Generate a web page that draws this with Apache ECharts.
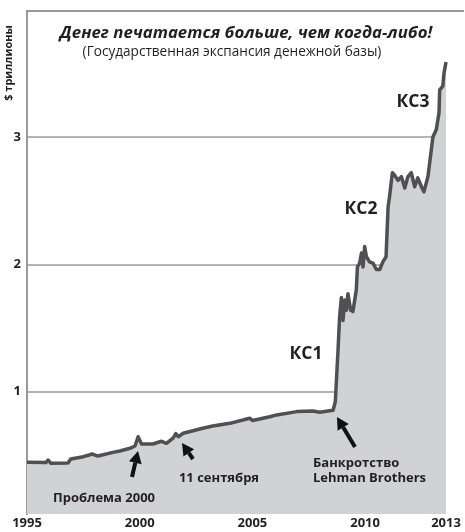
<!DOCTYPE html>
<html>
<head>
<meta charset="utf-8">
<script src="https://cdn.jsdelivr.net/npm/echarts@6/dist/echarts.min.js"></script>
<style>html,body{margin:0;padding:0;background:#fff;}#c{width:465px;height:532px;}</style>
</head>
<body>
<div id="c"></div>
<script>
// Monetary base, $ trillions (decimal year, value)
const years = [1995.00, 1995.84, 1995.94, 1996.06, 1996.82, 1996.94, 1997.44, 1997.75, 1997.88, 1998.15,
  1998.81, 1999.12, 1999.57, 1999.79, 1999.93, 2000.08, 2000.59, 2000.97, 2001.19, 2001.49,
  2001.60, 2001.71, 2001.93, 2002.80, 2003.24, 2004.00, 2004.88, 2005.01, 2005.77, 2006.08,
  2006.97, 2007.68, 2007.99, 2008.58, 2008.68, 2008.80, 2008.87, 2008.95, 2009.02, 2009.10,
  2009.17, 2009.24, 2009.36, 2009.46, 2009.61, 2009.66, 2009.76, 2009.84, 2009.91, 2009.98,
  2010.06, 2010.20, 2010.35, 2010.50, 2010.65, 2010.79, 2010.93, 2011.02, 2011.09, 2011.21,
  2011.31, 2011.46, 2011.61, 2011.76, 2011.90, 2012.05, 2012.20, 2012.34, 2012.50, 2012.61,
  2012.79, 2012.86, 2013.01, 2013.16, 2013.28, 2013.31, 2013.45, 2013.50, 2013.59];
const values = [0.446, 0.444, 0.464, 0.438, 0.440, 0.472, 0.487, 0.503, 0.511, 0.495,
  0.524, 0.535, 0.556, 0.574, 0.647, 0.590, 0.590, 0.611, 0.595, 0.637,
  0.672, 0.647, 0.674, 0.713, 0.731, 0.752, 0.792, 0.774, 0.804, 0.818,
  0.844, 0.849, 0.839, 0.855, 0.922, 1.33, 1.59, 1.74, 1.56, 1.72,
  1.64, 1.77, 1.64, 1.63, 1.80, 1.98, 2.01, 2.09, 1.98, 2.14,
  2.06, 2.02, 2.01, 1.96, 1.96, 2.02, 2.06, 2.45, 2.54, 2.72,
  2.70, 2.66, 2.69, 2.60, 2.69, 2.72, 2.61, 2.68, 2.61, 2.57,
  2.69, 2.70, 3.00, 3.06, 3.19, 3.37, 3.40, 3.50, 3.59];
const xTicks = [1995, 2000, 2005, 2010, 2013.59];
const xTickLabels = ['1995', '2000', '2005', '2010', '2013'];
const yTicks = [1, 2, 3];

const title = 'Денег печатается больше, чем когда-либо!';
const subtitle = '(Государственная экспансия денежной базы)';
const yName = '$ триллионы';

const FONT = '"Open Sans", "Noto Sans", sans-serif';
const TXT = '#231f20';

function arrow(x1, y1, x2, y2) {
  const ang = Math.atan2(y2 - y1, x2 - x1);
  const hl = 12, hw = 6.5;
  const bx = x2 - hl * Math.cos(ang), by = y2 - hl * Math.sin(ang);
  const px = -Math.sin(ang), py = Math.cos(ang);
  return [
    { type: 'line', shape: { x1: x1, y1: y1, x2: bx, y2: by }, style: { stroke: '#111', lineWidth: 4 }, z: 100 },
    { type: 'polygon', shape: { points: [[x2, y2], [bx + px * hw, by + py * hw], [bx - px * hw, by - py * hw]] }, style: { fill: '#111' }, z: 100 }
  ];
}
function label(text, x, y, size, opts) {
  return {
    type: 'text', x: x, y: y, z: 100,
    style: Object.assign({ text: text, fill: TXT, font: 'bold ' + size + 'px ' + FONT, textAlign: 'center', textVerticalAlign: 'middle' }, opts || {})
  };
}

const chart = echarts.init(document.getElementById('c'));
chart.setOption({
  animation: false,
  backgroundColor: '#fff',
  grid: { left: 27, right: 19, top: 11, bottom: 18, containLabel: false },
  xAxis: {
    type: 'value', min: 1995, max: 2013.59,
    axisLine: { show: false }, axisTick: { show: false }, splitLine: { show: false },
    axisLabel: {
      customValues: xTicks,
      formatter: v => xTickLabels[xTicks.indexOf(v)] || String(Math.floor(v)),
      color: TXT, fontFamily: FONT, fontWeight: 'bold', fontSize: 13, margin: 3
    }
  },
  yAxis: {
    type: 'value', min: 0.04, max: 3.99,
    axisLine: { show: true, lineStyle: { color: '#9a9a9a', width: 2 } },
    axisTick: { show: false, customValues: yTicks },
    axisLabel: { customValues: yTicks, color: TXT, fontFamily: FONT, fontWeight: 'bold', fontSize: 13, margin: 6 },
    splitLine: { show: true, lineStyle: { color: '#9d9d9d', width: 1.5 } }
  },
  series: [{
    type: 'line',
    data: years.map((y, i) => [y, values[i]]),
    symbol: 'none',
    lineStyle: { color: '#505052', width: 3.5, join: 'round' },
    areaStyle: { color: '#d1d2d4', opacity: 1, origin: 'start' },
    z: 3
  }],
  graphic: [
    { type: 'line', shape: { x1: 26, y1: 11, x2: 464, y2: 11 }, style: { stroke: '#9a9a9a', lineWidth: 2 }, z: 100 },
    label(title, 246, 33, 16.8, { font: 'italic bold 16.8px ' + FONT }),
    { type: 'text', x: 232, y: 52, z: 100, style: { text: subtitle, fill: TXT, font: '13.6px ' + FONT, textAlign: 'center', textVerticalAlign: 'middle' } },
    { type: 'text', x: 9, y: 63, rotation: Math.PI / 2, z: 100, style: { text: yName, fill: TXT, font: 'bold 11px ' + FONT, textAlign: 'center', textVerticalAlign: 'middle' } },
    label('КС1', 306, 354, 17.5),
    label('КС2', 361, 209, 17.5),
    label('КС3', 413, 102, 17.5),
    label('Проблема 2000', 104, 498, 13),
    label('11 сентября', 219, 478, 13),
    label('Банкротство', 313, 463, 13, { textAlign: 'left' }),
    label('Lehman Brothers', 313, 478, 13, { textAlign: 'left' })
  ].concat(arrow(132, 477, 138, 451), arrow(193, 459, 182, 443), arrow(355, 447, 337, 417))
});
</script>
</body>
</html>
